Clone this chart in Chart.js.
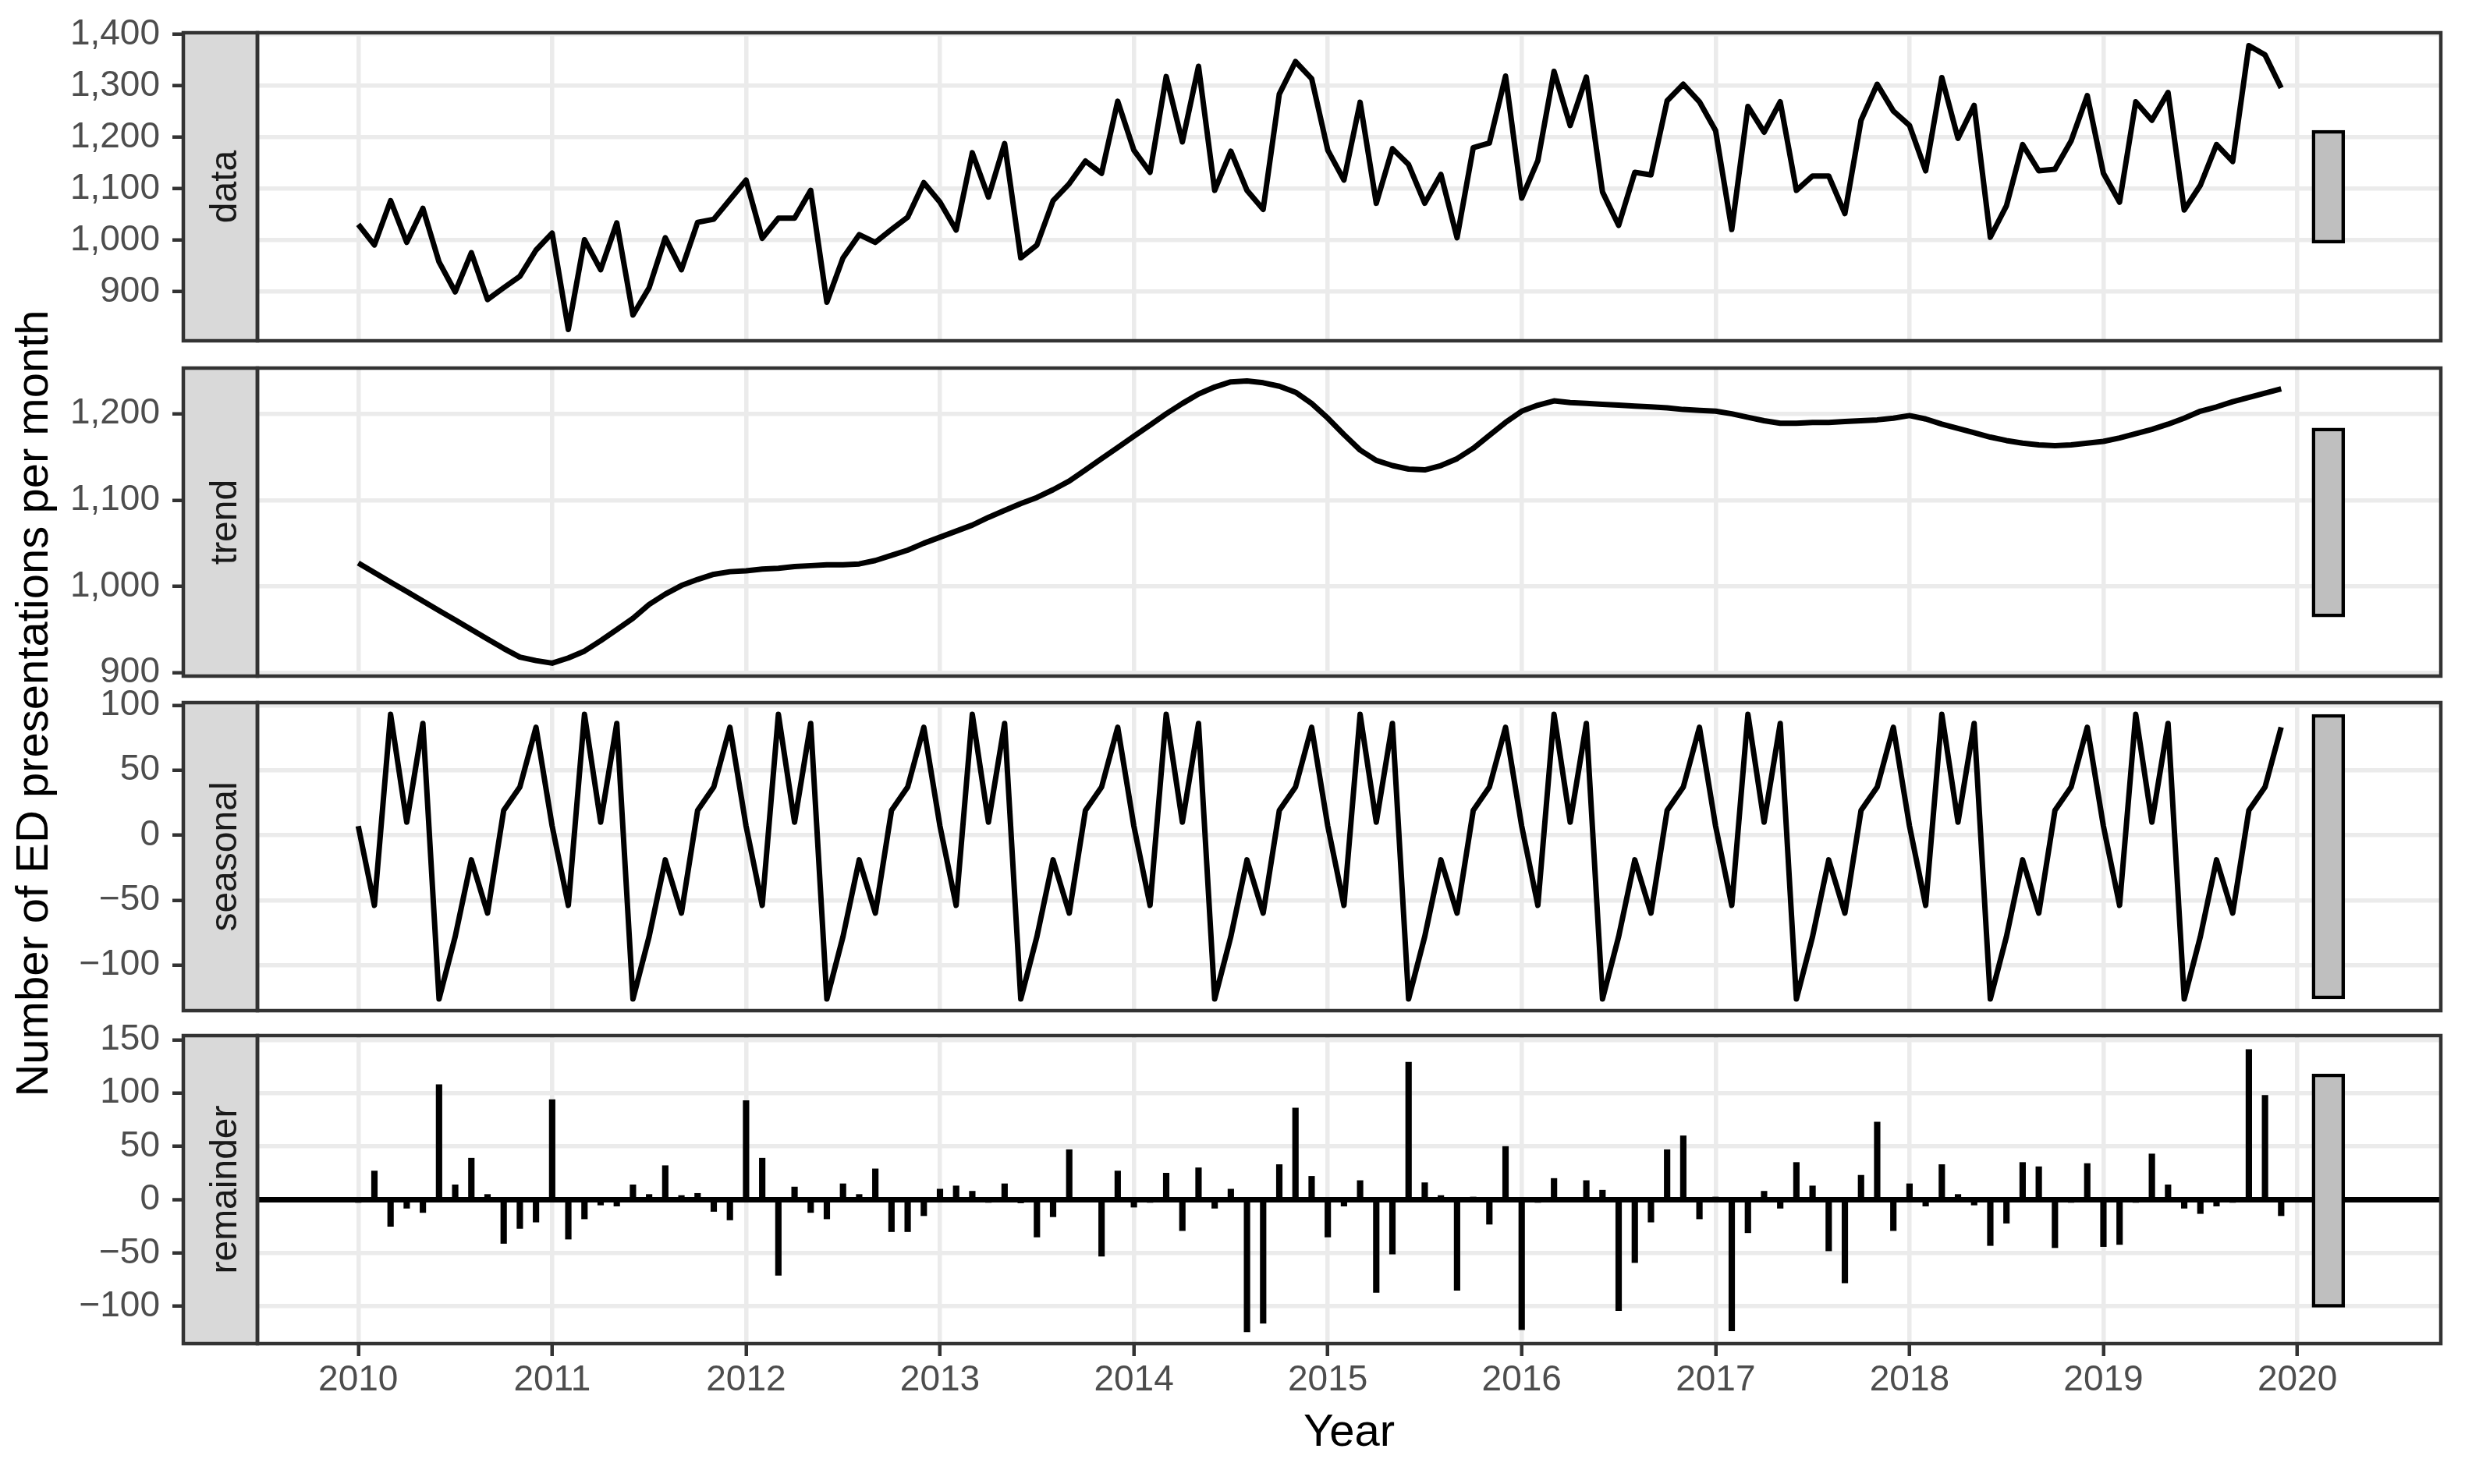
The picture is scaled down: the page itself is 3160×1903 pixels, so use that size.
<!DOCTYPE html>
<html>
<head>
<meta charset="utf-8">
<title>STL decomposition of ED presentations</title>
<script src="https://cdn.jsdelivr.net/npm/chart.js@4.4.1/dist/chart.umd.min.js"></script>
<style>
  html, body { margin: 0; padding: 0; background: #fff; }
  #wrap { position: relative; width: 3160px; height: 1903px; overflow: hidden; background: #fff; }
  #wrap canvas { position: absolute; left: 0; }
  #ytitle {
    position: absolute; left: -664px; top: 873px; width: 1400px; height: 58px;
    line-height: 58px; font: 58px "Liberation Sans", Arial, sans-serif; color: #000;
    text-align: center; white-space: nowrap; transform: rotate(-90deg);
  }
</style>
</head>
<body>
<div id="wrap">
  <canvas id="panel0" width="3160" height="495" style="top:-8px"></canvas>
  <canvas id="panel1" width="3160" height="495" style="top:422px"></canvas>
  <canvas id="panel2" width="3160" height="495" style="top:851px"></canvas>
  <canvas id="panel3" width="3160" height="625" style="top:1278px"></canvas>
  <div id="ytitle">Number of ED presentations per month</div>
</div>
<script>
const panelNames = ['data', 'trend', 'seasonal', 'remainder'];
const startYear = 2010; // monthly series, Jan 2010 - Dec 2019

const edData = [
  1031, 991, 1077, 996, 1062, 958, 900, 976, 885, 908, 930, 981,
  1014, 827, 1001, 943, 1034, 855, 908, 1005, 943, 1035, 1041, 1079,
  1117, 1004, 1043, 1043, 1097, 880, 966, 1011, 996, 1021, 1045, 1112,
  1074, 1020, 1170, 1084, 1188, 966, 991, 1077, 1110, 1154, 1130, 1270,
  1175, 1132, 1318, 1191, 1338, 1097, 1173, 1097, 1060, 1284, 1347, 1314,
  1175, 1117, 1268, 1072, 1178, 1147, 1072, 1128, 1005, 1180, 1189, 1319,
  1082, 1155, 1328, 1223, 1317, 1094, 1029, 1132, 1127, 1271, 1303, 1269,
  1213, 1021, 1260, 1210, 1269, 1097, 1125, 1125, 1052, 1233, 1303, 1251,
  1223, 1135, 1316, 1198, 1262, 1006, 1067, 1186, 1135, 1138, 1193, 1281,
  1130, 1074, 1269, 1233, 1287, 1059, 1107, 1186, 1153, 1378, 1360, 1296
];

const trendData = [
  1027, 1016, 1005, 994, 983, 972, 961, 950, 939, 928, 918, 914,
  911, 917, 925, 937, 950, 963, 979, 991, 1001, 1008, 1014, 1017,
  1018, 1020, 1021, 1023, 1024, 1025, 1025, 1026, 1030, 1036, 1042, 1050,
  1057, 1064, 1071, 1080, 1088, 1096, 1103, 1112, 1122, 1135, 1148, 1161,
  1174, 1187, 1200, 1212, 1223, 1231, 1237, 1238, 1236, 1232, 1225, 1212,
  1195, 1176, 1158, 1146, 1140, 1136, 1135, 1140, 1148, 1160, 1175, 1190,
  1203, 1210, 1215, 1213, 1212, 1211, 1210, 1209, 1208, 1207, 1205, 1204,
  1203, 1200, 1196, 1192, 1189, 1189, 1190, 1190, 1191, 1192, 1193, 1195,
  1198, 1194, 1188, 1183, 1178, 1173, 1169, 1166, 1164, 1163, 1164, 1166,
  1168, 1172, 1177, 1182, 1188, 1195, 1203, 1208, 1214, 1219, 1224, 1229
];

const seasonalData = [
  7, -54, 93, 10, 86, -126, -78, -19, -60, 19, 37, 83,
  7, -54, 93, 10, 86, -126, -78, -19, -60, 19, 37, 83,
  7, -54, 93, 10, 86, -126, -78, -19, -60, 19, 37, 83,
  7, -54, 93, 10, 86, -126, -78, -19, -60, 19, 37, 83,
  7, -54, 93, 10, 86, -126, -78, -19, -60, 19, 37, 83,
  7, -54, 93, 10, 86, -126, -78, -19, -60, 19, 37, 83,
  7, -54, 93, 10, 86, -126, -78, -19, -60, 19, 37, 83,
  7, -54, 93, 10, 86, -126, -78, -19, -60, 19, 37, 83,
  7, -54, 93, 10, 86, -126, -78, -19, -60, 19, 37, 83,
  7, -54, 93, 10, 86, -126, -78, -19, -60, 19, 37, 83
];

const remainderData = [
  -2, 27, -25, -8, -12, 108, 14, 39, 5, -41, -27, -21,
  94, -37, -18, -5, -6, 14, 5, 32, 4, 6, -11, -19,
  93, 39, -71, 12, -12, -18, 15, 5, 29, -30, -30, -15,
  10, 13, 8, -2, 15, -3, -35, -16, 47, 0, -53, 27,
  -7, -1, 25, -29, 30, -8, 10, -124, -116, 33, 86, 22,
  -35, -6, 18, -87, -51, 129, 16, 4, -85, 1, -23, 50,
  -122, -1, 20, 0, 18, 9, -104, -59, -21, 47, 60, -18,
  1, -123, -31, 8, -8, 35, 13, -48, -78, 23, 73, -29,
  15, -6, 33, 5, -5, -43, -22, 35, 31, -45, -1, 34,
  -44, -42, -1, 43, 14, -8, -13, -6, -1, 141, 98, -15
];

// grey scale bars at the right edge (same length in every panel)
const rangeBarLow = [994.5, 964.5, -126, -101];
const rangeBarHigh = [1213.5, 1183.5, 93, 118];
const rangeBarX = 2020.16;

// axis limits and tick values per panel
const yMin = [805, 896, -135, -135];
const yMax = [1403, 1253, 102, 154];
const yTicks = [
  [900, 1000, 1100, 1200, 1300, 1400],
  [900, 1000, 1100, 1200],
  [-100, -50, 0, 50, 100],
  [-100, -50, 0, 50, 100, 150]
];
const xMin = 2009.48;
const xMax = 2020.74;
const xTicks = [2010, 2011, 2012, 2013, 2014, 2015, 2016, 2017, 2018, 2019, 2020];

const monthX = edData.map((_, i) => startYear + i / 12);
const allSeries = [edData, trendData, seasonalData, remainderData];
const toPoints = s => s.map((v, i) => ({ x: monthX[i], y: v }));

const FONT = '"Liberation Sans", Arial, Helvetica, sans-serif';
Chart.defaults.font.family = FONT;

const fmtTick = v => v.toLocaleString('en-US').replace('-', '\u2212');

// strip on the left + panel border, drawn on top like ggplot does
const panelFrame = {
  id: 'panelFrame',
  afterDraw(chart, args, opts) {
    const { ctx, chartArea: a } = chart;
    const stripW = 95;
    ctx.save();
    ctx.fillStyle = '#d9d9d9';
    ctx.fillRect(a.left - stripW, a.top, stripW, a.bottom - a.top);
    ctx.strokeStyle = '#333333';
    ctx.lineWidth = 4.5;
    ctx.strokeRect(a.left - stripW, a.top, stripW, a.bottom - a.top);
    ctx.strokeRect(a.left, a.top, a.right - a.left, a.bottom - a.top);
    ctx.translate(a.left - 27, (a.top + a.bottom) / 2);
    ctx.rotate(-Math.PI / 2);
    ctx.font = '48px ' + FONT;
    ctx.fillStyle = '#1a1a1a';
    ctx.textAlign = 'center';
    ctx.textBaseline = 'alphabetic';
    ctx.fillText(opts.label, 0, 0);
    ctx.restore();
  }
};

function makePanel(i) {
  const isBottom = i === 3;
  const datasets = [];
  if (isBottom) {
    datasets.push({
      type: 'bar',
      data: toPoints(remainderData),
      backgroundColor: '#000',
      borderWidth: 0,
      barThickness: 7.5,
      grouped: false
    });
  } else {
    datasets.push({
      type: 'line',
      data: toPoints(allSeries[i]),
      borderColor: '#000',
      borderWidth: 7,
      pointRadius: 0,
      tension: 0,
      fill: false,
      borderJoinStyle: 'round'
    });
  }
  datasets.push({
    type: 'bar',
    data: [{ x: rangeBarX, y: [rangeBarLow[i], rangeBarHigh[i]] }],
    backgroundColor: '#bfbfbf',
    borderColor: '#000',
    borderWidth: 4.5,
    borderSkipped: false,
    barThickness: 42,
    grouped: false
  });

  return new Chart(document.getElementById('panel' + i), {
    type: 'line',
    data: { datasets },
    plugins: [panelFrame],
    options: {
      responsive: false,
      animation: false,
      devicePixelRatio: 1,
      layout: { padding: { top: 50, bottom: isBottom ? 0 : 50, left: 0, right: 31 } },
      plugins: {
        legend: { display: false },
        tooltip: { enabled: false },
        panelFrame: { label: panelNames[i] }
      },
      scales: {
        x: {
          type: 'linear',
          min: xMin,
          max: xMax,
          offset: false,
          afterBuildTicks: s => { s.ticks = xTicks.map(v => ({ value: v })); },
          afterFit: s => { s.height = isBottom ? 180 : 0; },
          border: { display: false },
          grid: {
            offset: false,
            color: '#ebebeb', lineWidth: 5.5,
            drawTicks: isBottom, tickLength: 16, tickColor: '#333333', tickWidth: 4.5
          },
          ticks: {
            display: isBottom, autoSkip: false,
            maxRotation: 0, padding: 8, color: '#4d4d4d',
            font: { size: 46, lineHeight: 1 },
            callback: v => String(v)
          },
          title: {
            display: isBottom, text: 'Year', color: '#000',
            font: { size: 58, lineHeight: 1 },
            padding: { top: 0, bottom: 36 }
          }
        },
        y: {
          min: yMin[i],
          max: yMax[i],
          afterBuildTicks: s => { s.ticks = yTicks[i].map(v => ({ value: v })); },
          afterFit: s => { s.width = 330; },
          border: { display: false },
          grid: {
            color: c => (isBottom && c.tick && c.tick.value === 0) ? '#000' : '#ebebeb',
            lineWidth: c => (isBottom && c.tick && c.tick.value === 0) ? 7 : 5.5,
            tickLength: 109, tickColor: '#333333', tickWidth: 4.5
          },
          ticks: {
            autoSkip: false,
            padding: 16, color: '#4d4d4d',
            font: { size: 46 },
            callback: v => fmtTick(v)
          }
        }
      }
    }
  });
}

panelNames.forEach((_, i) => makePanel(i));
</script>
</body>
</html>
